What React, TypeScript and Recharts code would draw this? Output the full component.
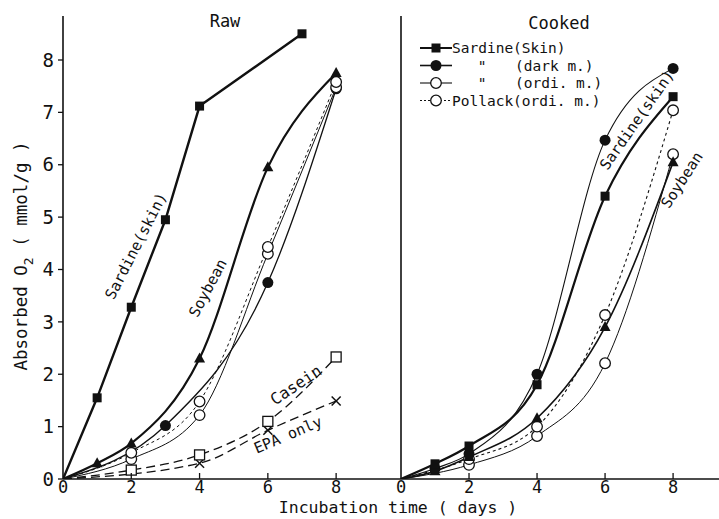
import React from 'react';
import { LineChart, Line, XAxis, YAxis } from 'recharts';

// incubation days sampled
const days = [0, 1, 2, 3, 4, 6, 7, 8];

// absorbed O2 (mmol/g) – raw samples
const rawSardineSkin = [0, 1.55, 3.28, 4.95, 7.12, null, 8.5, null];
const rawSoybean = [0, 0.3, 0.68, null, 2.3, 5.95, null, 7.75];
const rawSardineDark = [0, null, null, 1.02, null, 3.75, null, 7.45];
const rawSardineOrdi = [0, null, 0.38, null, 1.22, 4.3, null, 7.48];
const rawPollackOrdi = [0, null, 0.5, null, 1.48, 4.43, null, 7.58];
const rawCasein = [0, null, 0.17, null, 0.46, 1.1, null, 2.33];
const rawEpaOnly = [0, null, null, null, 0.3, 0.93, null, 1.49];

// absorbed O2 (mmol/g) – cooked samples
const cookedSardineSkin = [0, 0.29, 0.63, null, 1.8, 5.4, null, 7.3];
const cookedSardineDark = [0, 0.2, 0.48, null, 2.0, 6.47, null, 7.84];
const cookedSardineOrdi = [0, null, 0.27, null, 0.82, 2.21, null, 6.2];
const cookedPollackOrdi = [0, null, 0.38, null, 1.0, 3.13, null, 7.04];
const cookedSoybean = [0, 0.15, 0.42, null, 1.16, 2.9, null, 6.05];

const xTicks = [0, 2, 4, 6, 8];
const yTicks = [0, 1, 2, 3, 4, 5, 6, 7, 8];

const rawRows = days.map((day, i) => ({
  day,
  sardineSkin: rawSardineSkin[i],
  soybean: rawSoybean[i],
  sardineDark: rawSardineDark[i],
  sardineOrdi: rawSardineOrdi[i],
  pollackOrdi: rawPollackOrdi[i],
  casein: rawCasein[i],
  epaOnly: rawEpaOnly[i],
}));

const cookedRows = days.map((day, i) => ({
  day,
  sardineSkin: cookedSardineSkin[i],
  sardineDark: cookedSardineDark[i],
  sardineOrdi: cookedSardineOrdi[i],
  pollackOrdi: cookedPollackOrdi[i],
  soybean: cookedSoybean[i],
}));

const FONT = '"DejaVu Sans Mono", monospace';
const INK = '#111';

type Shape = 'filledSquare' | 'openSquare' | 'filledCircle' | 'openCircle' | 'filledTriangle' | 'cross';

const Marker = ({ shape, cx, cy }: { shape: Shape; cx: number; cy: number }) => {
  switch (shape) {
    case 'filledSquare':
      return <rect x={cx - 4.5} y={cy - 4.5} width={9} height={9} fill={INK} />;
    case 'openSquare':
      return <rect x={cx - 5} y={cy - 5} width={10} height={10} fill="#fff" stroke={INK} strokeWidth={1.3} />;
    case 'filledCircle':
      return <circle cx={cx} cy={cy} r={5.5} fill={INK} />;
    case 'openCircle':
      return <circle cx={cx} cy={cy} r={5.3} fill="#fff" stroke={INK} strokeWidth={1.3} />;
    case 'filledTriangle':
      return <polygon points={`${cx},${cy - 6} ${cx - 5.5},${cy + 4} ${cx + 5.5},${cy + 4}`} fill={INK} />;
    case 'cross':
      return (
        <g stroke={INK} strokeWidth={1.5}>
          <line x1={cx - 4.5} y1={cy - 4.5} x2={cx + 4.5} y2={cy + 4.5} />
          <line x1={cx - 4.5} y1={cy + 4.5} x2={cx + 4.5} y2={cy - 4.5} />
        </g>
      );
  }
  return null;
};

// no marker at the origin or where a series has no reading
const dotFor = (shape: Shape) => (props: any) => {
  const { cx, cy, payload, value, index } = props;
  if (cy == null || value == null || payload.day === 0) return <g key={index} />;
  return (
    <g key={index}>
      <Marker shape={shape} cx={cx} cy={cy} />
    </g>
  );
};

const XTick = (props: any) => {
  const { x, y, payload } = props;
  return (
    <g>
      {payload.value !== 0 && <line x1={x} x2={x} y1={y} y2={y - 6} stroke={INK} strokeWidth={1.3} />}
      <text x={x} y={y + 14} textAnchor="middle" fontFamily={FONT} fontSize={17} fill={INK}>
        {payload.value}
      </text>
    </g>
  );
};

const axisLine = { stroke: INK, strokeWidth: 1.6 };

const RawPanel = () => (
  <LineChart width={401} height={519} data={rawRows} margin={{ top: 16, right: 0, bottom: 0, left: 3 }}>
    <XAxis
      type="number"
      dataKey="day"
      domain={[0, 9.9]}
      ticks={xTicks}
      height={40}
      axisLine={axisLine}
      tickLine={false}
      tickSize={0}
      tickMargin={0}
      tick={<XTick />}
      allowDataOverflow
    />
    <YAxis
      type="number"
      domain={[0, 8.84]}
      ticks={yTicks}
      width={60}
      axisLine={axisLine}
      tickLine={{ stroke: INK, strokeWidth: 1.3 }}
      tickSize={5}
      tickMargin={4}
      tick={{ fontFamily: FONT, fontSize: 19, fill: INK }}
      allowDataOverflow
    />
    <Line type="monotone" dataKey="epaOnly" stroke={INK} strokeWidth={1.3} strokeDasharray="9 5" connectNulls dot={dotFor('cross')} isAnimationActive={false} />
    <Line type="monotone" dataKey="casein" stroke={INK} strokeWidth={1.3} strokeDasharray="9 5" connectNulls dot={dotFor('openSquare')} isAnimationActive={false} />
    <Line type="monotone" dataKey="sardineDark" stroke={INK} strokeWidth={1.3} connectNulls dot={dotFor('filledCircle')} isAnimationActive={false} />
    <Line type="monotone" dataKey="sardineOrdi" stroke={INK} strokeWidth={1} connectNulls dot={dotFor('openCircle')} isAnimationActive={false} />
    <Line type="monotone" dataKey="pollackOrdi" stroke={INK} strokeWidth={1} strokeDasharray="3 3" connectNulls dot={dotFor('openCircle')} isAnimationActive={false} />
    <Line type="monotone" dataKey="soybean" stroke={INK} strokeWidth={2.2} connectNulls dot={dotFor('filledTriangle')} isAnimationActive={false} />
    <Line type="linear" dataKey="sardineSkin" stroke={INK} strokeWidth={2.4} connectNulls dot={dotFor('filledSquare')} isAnimationActive={false} />
  </LineChart>
);

const CookedPanel = () => (
  <LineChart width={328} height={519} data={cookedRows} margin={{ top: 16, right: 0, bottom: 0, left: 0 }}>
    <XAxis
      type="number"
      dataKey="day"
      domain={[0, 9.35]}
      ticks={xTicks}
      height={40}
      axisLine={axisLine}
      tickLine={false}
      tickSize={0}
      tickMargin={0}
      tick={<XTick />}
      allowDataOverflow
    />
    <YAxis
      type="number"
      domain={[0, 8.84]}
      ticks={yTicks}
      width={10}
      axisLine={axisLine}
      tickLine={{ stroke: INK, strokeWidth: 1.3 }}
      tickSize={-7}
      tick={false}
      allowDataOverflow
    />
    <Line type="monotone" dataKey="sardineOrdi" stroke={INK} strokeWidth={1} connectNulls dot={dotFor('openCircle')} isAnimationActive={false} />
    <Line type="monotone" dataKey="pollackOrdi" stroke={INK} strokeWidth={1.1} strokeDasharray="3 3" connectNulls dot={dotFor('openCircle')} isAnimationActive={false} />
    <Line type="monotone" dataKey="soybean" stroke={INK} strokeWidth={1.6} connectNulls dot={dotFor('filledTriangle')} isAnimationActive={false} />
    <Line type="monotone" dataKey="sardineDark" stroke={INK} strokeWidth={1.1} connectNulls dot={dotFor('filledCircle')} isAnimationActive={false} />
    <Line type="monotone" dataKey="sardineSkin" stroke={INK} strokeWidth={2.2} connectNulls dot={dotFor('filledSquare')} isAnimationActive={false} />
  </LineChart>
);

const legendRows: { shape: Shape; width: number; dash?: string; lead: string; text: string }[] = [
  { shape: 'filledSquare', width: 2, lead: '', text: 'Sardine(Skin)' },
  { shape: 'filledCircle', width: 1.6, lead: '"', text: '(dark m.)' },
  { shape: 'openCircle', width: 1.1, lead: '"', text: '(ordi. m.)' },
  { shape: 'openCircle', width: 1, dash: '2 2', lead: '', text: 'Pollack(ordi. m.)' },
];

const Rotated = ({ x, y, angle, size, children }: { x: number; y: number; angle: number; size: number; children: React.ReactNode }) => (
  <text
    x={x}
    y={y}
    transform={`rotate(${angle} ${x} ${y})`}
    textAnchor="middle"
    dominantBaseline="central"
    fontFamily={FONT}
    fontSize={size}
    fill={INK}
  >
    {children}
  </text>
);

const Overlay = () => (
  <svg width={719} height={519} style={{ position: 'absolute', left: 0, top: 0, pointerEvents: 'none' }}>
    <g fontFamily={FONT} fill={INK}>
      <text x={225} y={27} textAnchor="middle" fontSize={17}>Raw</text>
      <text x={559} y={29} textAnchor="middle" fontSize={17}>Cooked</text>
      <text x={398} y={513} textAnchor="middle" fontSize={16.5}>Incubation time ( days )</text>
      <text x={27} y={256} transform="rotate(-90 27 256)" textAnchor="middle" fontSize={17.5}>
        Absorbed O<tspan fontSize={13} dy={6}>2</tspan>
        <tspan dy={-6}> ( mmol/g )</tspan>
      </text>
    </g>

    <Rotated x={136} y={246} angle={-63} size={15}>Sardine(skin)</Rotated>
    <Rotated x={208} y={288} angle={-62} size={15}>Soybean</Rotated>
    <Rotated x={296} y={385} angle={-34} size={16}>Casein</Rotated>
    <Rotated x={288} y={435} angle={-23} size={15}>EPA only</Rotated>
    <Rotated x={637} y={120} angle={-55} size={15}>Sardine(skin)</Rotated>
    <Rotated x={682} y={180} angle={-57} size={15}>Soybean</Rotated>

    {legendRows.map((row, i) => {
      const y = 48 + i * 17.5;
      return (
        <g key={row.text}>
          <line x1={420} x2={452} y1={y} y2={y} stroke={INK} strokeWidth={row.width} strokeDasharray={row.dash} />
          <Marker shape={row.shape} cx={436} cy={y} />
          {row.lead && (
            <text x={482} y={y + 5} textAnchor="middle" fontFamily={FONT} fontSize={14.5} fill={INK}>{row.lead}</text>
          )}
          <text x={row.lead ? 515 : 452} y={y + 5} fontFamily={FONT} fontSize={14.5} fill={INK}>{row.text}</text>
        </g>
      );
    })}
  </svg>
);

export default function App() {
  return (
    <div style={{ position: 'absolute', left: 0, top: 0, width: 719, height: 519, background: '#fff' }}>
      <div style={{ position: 'absolute', left: 0, top: 0 }}>
        <RawPanel />
      </div>
      <div style={{ position: 'absolute', left: 391, top: 0 }}>
        <CookedPanel />
      </div>
      <Overlay />
    </div>
  );
}
